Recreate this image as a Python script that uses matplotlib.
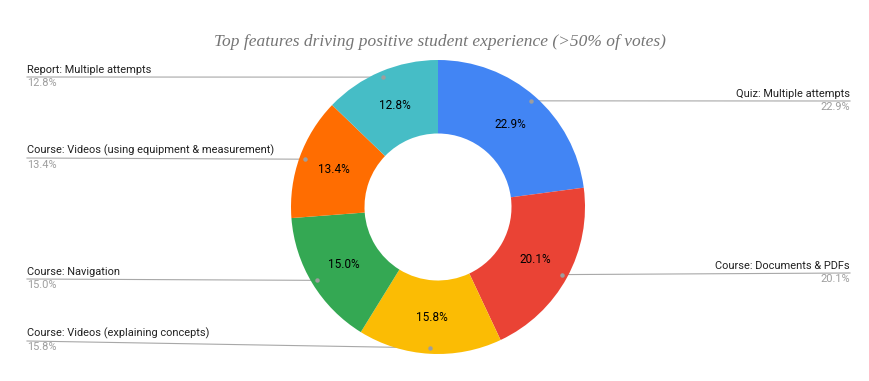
import numpy as np
import matplotlib.pyplot as plt

labels = ['Quiz: Multiple attempts', 'Course: Documents & PDFs',
          'Course: Videos (explaining concepts)', 'Course: Navigation',
          'Course: Videos (using equipment & measurement)', 'Report: Multiple attempts']
values = [22.9, 20.1, 15.8, 15.0, 13.4, 12.8]
colors = ['#4285F4', '#EA4335', '#FBBC04', '#34A853', '#FF6D01', '#46BDC6']

# label rows (pixel y of leader line) and side
label_y = [101, 273, 341, 279, 158, 77]
side = ['r', 'r', 'l', 'l', 'l', 'l']

W, H = 869, 381
cx, cy, R = 438, 207, 147

fig = plt.figure(figsize=(W / 100, H / 100), dpi=100)
ax = fig.add_axes([(cx - R) / W, 1 - (cy + R) / H, 2 * R / W, 2 * R / H])
wedges, _ = ax.pie(values, colors=colors, startangle=90, counterclock=False,
                   radius=1, wedgeprops=dict(width=0.5, edgecolor='none'))
ax.set_xlim(-1, 1)
ax.set_ylim(-1, 1)
ax.set_aspect('equal')
ax.axis('off')

# overlay in pixel coordinates
ov = fig.add_axes([0, 0, 1, 1], zorder=-1)
ov.set_xlim(0, W)
ov.set_ylim(H, 0)
ov.axis('off')

font = 'Roboto'
total = sum(values)
start = 0
for lab, v, ly, s in zip(labels, values, label_y, side):
    mid = (start + v / 2) / total * 2 * np.pi
    start += v
    # inner percent label
    ax.text(0.75 * np.sin(mid), 0.75 * np.cos(mid), f'{v:.1f}%', ha='center', va='center',
            fontsize=8.5, family=font, color='#000000')
    px = cx + 0.96 * R * np.sin(mid)
    py = cy - 0.96 * R * np.cos(mid)
    tx = 27 if s == 'l' else 850
    ha = 'left' if s == 'l' else 'right'
    ov.plot([tx, px], [ly, py], color='#a8a8a8', lw=0.8, zorder=1)
    ax.plot(0.96 * np.sin(mid), 0.96 * np.cos(mid), 'o', ms=2.2, color='#9e9e9e', zorder=5)
    ov.text(tx, ly - 2, lab, ha=ha, va='bottom', fontsize=7.9, family=font, color='#222222')
    ov.text(tx, ly + 1.5, f'{v:.1f}%', ha=ha, va='top', fontsize=7.9, family=font, color='#9e9e9e')

fig.text(440 / W, 1 - 42 / H, 'Top features driving positive student experience (>50% of votes)',
         ha='center', va='center', fontsize=12.5, family='Liberation Serif', style='italic',
         color='#757575')

fig.savefig('out.png', dpi=100, facecolor='white')
